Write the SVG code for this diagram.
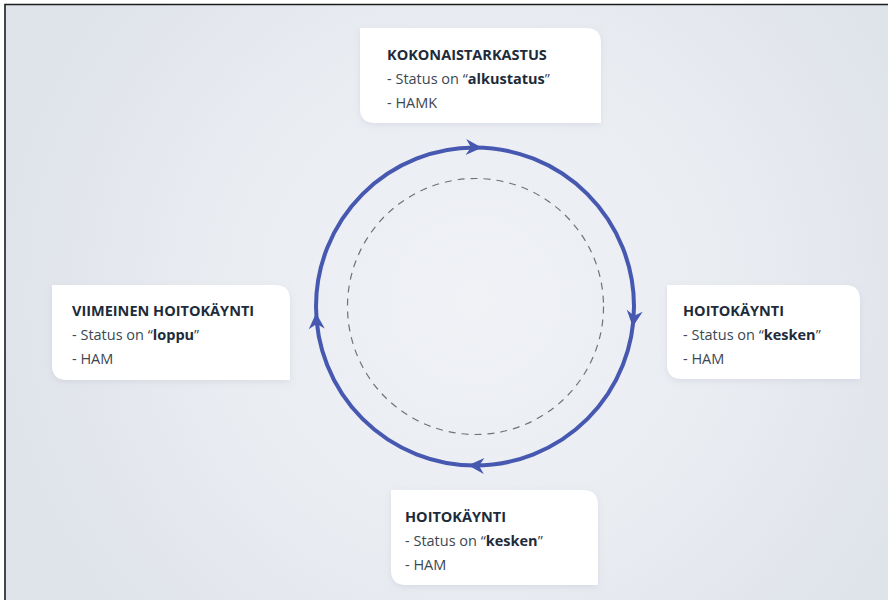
<svg xmlns="http://www.w3.org/2000/svg" xmlns:xlink="http://www.w3.org/1999/xlink" width="888" height="600" viewBox="0 0 888 600">
  <defs>
    <radialGradient id="bg" cx="475" cy="300" r="480" gradientUnits="userSpaceOnUse">
      <stop offset="0" stop-color="#f0f2f6"/>
      <stop offset="0.55" stop-color="#e9ecf1"/>
      <stop offset="1" stop-color="#dfe3ea"/>
    </radialGradient>
    <filter id="sh" x="-10%" y="-10%" width="120%" height="130%">
      <feDropShadow dx="0" dy="2" stdDeviation="3" flood-color="#8a93a8" flood-opacity="0.18"/>
    </filter>
    <path id="ah" d="M0,0 L-16,-8 L-11,0 L-16,8 Z" fill="#4658b0"/>
  </defs>
  <style>
    .card { fill: #ffffff; filter: url(#sh); }
    .title { font-family: "Open Sans", "Noto Sans", sans-serif; font-weight: 700; font-size: 14.5px; fill: #1d2b3a; }
    .body { font-family: "Open Sans", "Noto Sans", sans-serif; font-weight: 400; font-size: 14.5px; fill: #3b4753; }
    .b { font-weight: 700; fill: #1d2b3a; }
    .ring { fill: none; stroke: #4658b0; stroke-width: 4; }
    .dash { fill: none; stroke: #6f7378; stroke-width: 1.2; stroke-dasharray: 7 6; }
  </style>

  <rect x="0" y="0" width="888" height="600" fill="#ffffff"/>
  <rect x="5" y="5" width="883" height="595" fill="url(#bg)"/>
  <path d="M5,600 V4.5 H888" fill="none" stroke="#1c1c1c" stroke-width="1.6"/>

  <g id="connectors">
    <circle class="dash" cx="475.5" cy="306.5" r="128"/>
    <circle class="ring" cx="475" cy="306.5" r="159"/>
    <use xlink:href="#ah" transform="translate(481.9,147.7) rotate(2.5)"/>
    <use xlink:href="#ah" transform="translate(632.7,326.7) rotate(97.3)"/>
    <use xlink:href="#ah" transform="translate(468.1,465.3) rotate(182.5)"/>
    <use xlink:href="#ah" transform="translate(316.1,312.9) rotate(267.7)"/>
  </g>

  <g id="node-kokonaistarkastus">
    <path class="card" d="M360,28 H586 Q601,28 601,43 V123 H375 Q360,123 360,108 Z"/>
    <text class="title" x="387" y="60">KOKONAISTARKASTUS</text>
    <text class="body" x="387" y="84">- Status on “<tspan class="b">alkustatus</tspan>”</text>
    <text class="body" x="387" y="108">- HAMK</text>
  </g>

  <g id="node-viimeinen">
    <path class="card" d="M52,285 H275 Q290,285 290,300 V380 H67 Q52,380 52,365 Z"/>
    <text class="title" x="72" y="316">VIIMEINEN HOITOKÄYNTI</text>
    <text class="body" x="72" y="340">- Status on “<tspan class="b">loppu</tspan>”</text>
    <text class="body" x="72" y="364">- HAM</text>
  </g>

  <g id="node-hoitokaynti-right">
    <path class="card" d="M667,285 H845 Q860,285 860,300 V379 H682 Q667,379 667,364 Z"/>
    <text class="title" x="683" y="316">HOITOKÄYNTI</text>
    <text class="body" x="683" y="340">- Status on “<tspan class="b">kesken</tspan>”</text>
    <text class="body" x="683" y="364">- HAM</text>
  </g>

  <g id="node-hoitokaynti-bottom">
    <path class="card" d="M391,490 H583 Q598,490 598,505 V585 H406 Q391,585 391,570 Z"/>
    <text class="title" x="405" y="522">HOITOKÄYNTI</text>
    <text class="body" x="405" y="546">- Status on “<tspan class="b">kesken</tspan>”</text>
    <text class="body" x="405" y="570">- HAM</text>
  </g>
</svg>
